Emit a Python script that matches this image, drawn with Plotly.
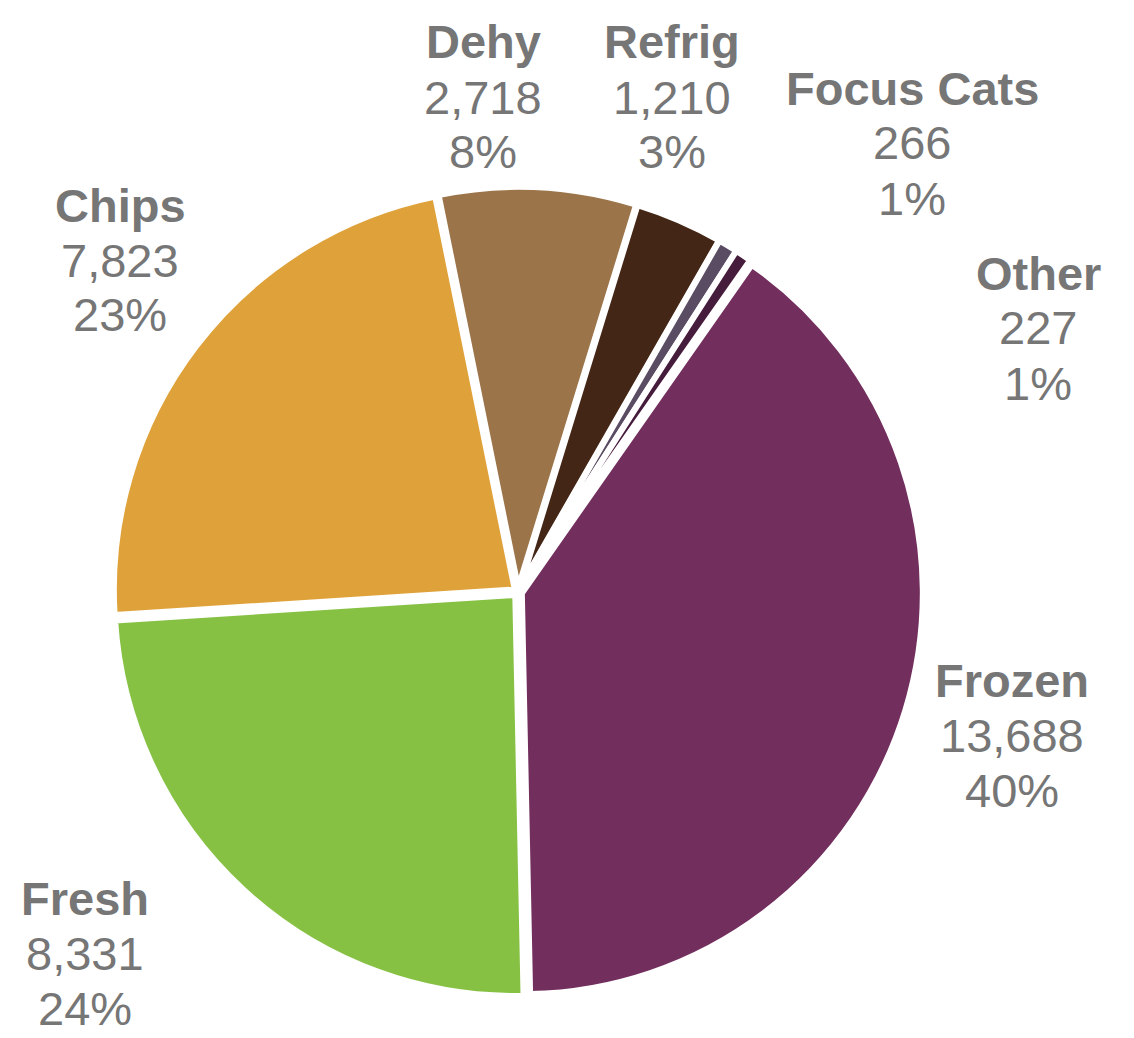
import plotly.graph_objects as go

categories = ["Frozen", "Fresh", "Chips", "Dehy", "Refrig", "Focus Cats", "Other"]
values = [13688, 8331, 7823, 2718, 1210, 266, 227]
pct_labels = ["40%", "24%", "23%", "8%", "3%", "1%", "1%"]
colors = ["#722F5E", "#86C144", "#DFA23A", "#9C7449", "#442616", "#5A4C63", "#461C3C"]

# label anchor positions in pixels (x, y of the name line)
label_pos = {
    "Frozen": (1012, 680),
    "Fresh": (85, 898),
    "Chips": (120, 205),
    "Dehy": (483, 42),
    "Refrig": (672, 42),
    "Focus Cats": (912, 88),
    "Other": (1038, 273),
}

W, H = 1134, 1038
OFF = 8  # page body margin
cx, cy, r = 518 - OFF, 592 - OFF, 405

fig = go.Figure(go.Pie(
    labels=categories,
    values=values,
    sort=False,
    direction="clockwise",
    rotation=35,
    pull=0.01,
    marker=dict(colors=colors, line=dict(color="white", width=6)),
    textinfo="none",
    hoverinfo="label+value+percent",
    domain=dict(x=[(cx - r) / W, (cx + r) / W], y=[1 - (cy + r) / H, 1 - (cy - r) / H]),
))

font_family = "Liberation Sans, Arial, sans-serif"
gray = "#767676"
line_h = 55
for cat, val, pct in zip(categories, values, pct_labels):
    px, py = label_pos[cat]
    px -= OFF
    py -= OFF
    lines = [(f"<b>{cat}</b>", 0), (f"{val:,}", line_h), (pct, 2 * line_h)]
    for txt, dy in lines:
        fig.add_annotation(
            x=px / W, y=1 - (py + dy) / H, xref="paper", yref="paper",
            text=txt, showarrow=False, xanchor="center", yanchor="middle",
            font=dict(family=font_family, size=47, color=gray),
        )

fig.update_layout(
    width=W, height=H,
    margin=dict(l=0, r=0, t=0, b=0),
    paper_bgcolor="white", plot_bgcolor="white",
    showlegend=False,
)

fig.write_html("out.html")
